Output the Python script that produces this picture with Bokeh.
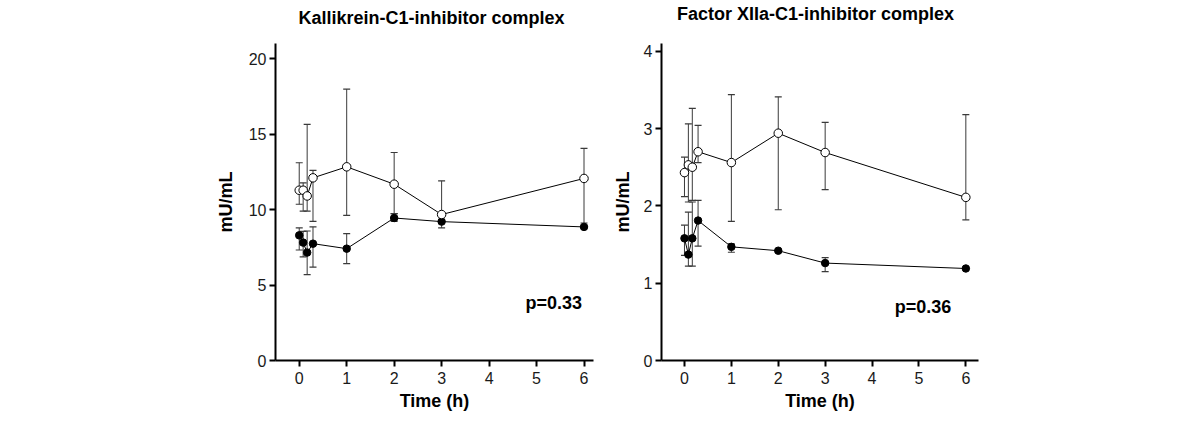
from bokeh.plotting import figure
from bokeh.models import ColumnDataSource, Whisker, TeeHead, Label, FixedTicker, Range1d
from bokeh.layouts import row, column
from bokeh.core.properties import value
from bokeh.embed import file_html
from bokeh.resources import INLINE

time_h = [0, 0.083, 0.167, 0.29, 1, 2, 3, 6]
x_ticks = [0, 1, 2, 3, 4, 5, 6]

panel_titles = ["Kallikrein-C1-inhibitor complex", "Factor XIIa-C1-inhibitor complex"]

kal_open = [11.28, 11.28, 10.9, 12.1, 12.83, 11.68, 9.67, 12.06]
kal_open_lo = [10.35, 9.9, 9.9, 9.22, 9.62, 9.73, 9.67, 9.11]
kal_open_hi = [13.1, 11.77, 15.64, 12.6, 17.98, 13.78, 11.9, 14.05]
kal_fill = [8.29, 7.81, 7.15, 7.74, 7.41, 9.44, 9.2, 8.85]
kal_fill_lo = [7.32, 6.86, 5.69, 6.19, 6.42, 9.22, 8.78, 8.85]
kal_fill_hi = [8.78, 8.56, 8.58, 8.85, 8.41, 9.73, 9.2, 8.85]
kal_yticks = [0, 5, 10, 15, 20]

f12_open = [2.43, 2.53, 2.50, 2.70, 2.56, 2.94, 2.69, 2.11]
f12_open_lo = [2.12, 2.05, 2.07, 2.56, 1.80, 1.95, 2.21, 1.82]
f12_open_hi = [2.63, 3.06, 3.26, 3.04, 3.44, 3.41, 3.08, 3.18]
f12_fill = [1.58, 1.37, 1.58, 1.81, 1.47, 1.42, 1.26, 1.19]
f12_fill_lo = [1.36, 1.22, 1.22, 1.48, 1.40, 1.42, 1.15, 1.19]
f12_fill_hi = [1.75, 1.92, 2.05, 2.07, 1.51, 1.42, 1.33, 1.19]
f12_yticks = [0, 1, 2, 3, 4]

p_values = ["p=0.33", "p=0.36"]

FONT = "Liberation Sans"
TITLE_H = 30


def panel(xr, yr, yticks, o, olo, ohi, f, flo, fhi, ptext, px, py,
          width, bl, br, ylab_standoff):
    p = figure(width=width, height=416 - TITLE_H, x_range=Range1d(*xr), y_range=Range1d(*yr),
               output_backend="svg", toolbar_location=None,
               min_border_left=bl, min_border_right=br, min_border_top=43 - TITLE_H,
               min_border_bottom=56)
    p.outline_line_color = None
    p.xgrid.visible = False
    p.ygrid.visible = False
    for ax in (p.xaxis[0], p.yaxis[0]):
        ax.axis_line_width = 2
        ax.axis_line_color = "black"
        ax.major_tick_line_width = 2
        ax.major_tick_line_color = "black"
        ax.major_tick_in = 0
        ax.major_tick_out = 6
        ax.minor_tick_line_color = None
        ax.major_label_text_font = FONT
        ax.major_label_text_font_size = "16px"
        ax.major_label_text_color = "#1a1a1a"
        ax.axis_label_text_font = FONT
        ax.axis_label_text_font_style = "bold"
        ax.axis_label_text_color = "black"
        ax.axis_label_text_font_size = "18px"
    p.xaxis.ticker = FixedTicker(ticks=x_ticks)
    p.yaxis.ticker = FixedTicker(ticks=yticks)
    p.xaxis.axis_label = "Time (h)"
    p.xaxis.major_label_standoff = 5
    p.xaxis.axis_label_standoff = 4
    p.yaxis.axis_label = "mU/mL"
    p.yaxis.major_label_standoff = 3
    p.yaxis.axis_label_standoff = ylab_standoff

    so = ColumnDataSource(dict(t=time_h, v=o, lo=olo, hi=ohi))
    sf = ColumnDataSource(dict(t=time_h, v=f, lo=flo, hi=fhi))
    for src in (so, sf):
        w = Whisker(source=src, base="t", lower="lo", upper="hi", line_color="#3a3a3a",
                    line_width=1,
                    upper_head=TeeHead(size=7, line_color="#3a3a3a", line_width=1.2),
                    lower_head=TeeHead(size=7, line_color="#3a3a3a", line_width=1.2))
        p.add_layout(w)
    p.line("t", "v", source=sf, line_color="black", line_width=1)
    p.line("t", "v", source=so, line_color="black", line_width=1)
    p.scatter("t", "v", source=sf, size=7.5, fill_color="black", line_color="black")
    p.scatter("t", "v", source=so, size=8.5, fill_color="white", line_color="black", line_width=1)
    p.add_layout(Label(x=px, y=py, text=ptext, text_align="right", text_baseline="middle",
                       text_font=FONT, text_font_size="18px", text_font_style="bold",
                       text_color="black"))
    return p


# title strip (pixel coordinates, y measured upward within the strip)
tfig = figure(width=1192, height=TITLE_H, x_range=Range1d(0, 1192), y_range=Range1d(0, TITLE_H),
              x_axis_type=None, y_axis_type=None, output_backend="svg", toolbar_location=None,
              min_border=0)
tfig.outline_line_color = None
tfig.xgrid.visible = False
tfig.ygrid.visible = False
tfig.text(x=[431, 815], y=[TITLE_H - 17, TITLE_H - 13], text=panel_titles,
          text_align="center", text_baseline="middle", text_font=value(FONT),
          text_font_size="18px", text_font_style="bold", text_color="black")

p1 = panel((-0.5, 6.2), (0, 21), kal_yticks,
           kal_open, kal_open_lo, kal_open_hi, kal_fill, kal_fill_lo, kal_fill_hi,
           p_values[0], 5.96, 3.78, 600, 275, 7, 10)
p2 = panel((-0.49, 6.27), (0, 4.1), f12_yticks,
           f12_open, f12_open_lo, f12_open_hi, f12_fill, f12_fill_lo, f12_fill_hi,
           p_values[1], 5.69, 0.69, 592, 61, 214, 8)

layout = column(tfig, row(p1, p2))
open("out.html", "w").write(file_html(layout, INLINE))
